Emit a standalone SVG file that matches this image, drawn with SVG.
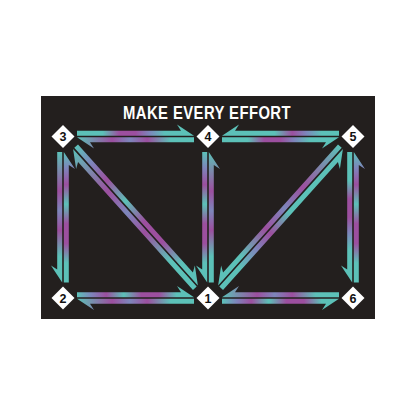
<svg xmlns="http://www.w3.org/2000/svg" width="416" height="416" viewBox="0 0 416 416">
  <style>
    .title { font-family: "Liberation Sans", Arial, sans-serif; font-weight: bold; font-size: 17.5px; fill: #ffffff; letter-spacing: 0.5px; }
    .num { font-family: "Liberation Sans", Arial, sans-serif; font-weight: bold; font-size: 12.5px; fill: #111111; text-anchor: middle; }
    .dia { fill: #ffffff; }
  </style>
  <defs>
    <linearGradient id="ga" x1="0" y1="0" x2="1" y2="0">
      <stop offset="0" stop-color="#5cc1b8"/><stop offset="0.22" stop-color="#5cc1b8"/>
      <stop offset="0.36" stop-color="#9c4f9f"/><stop offset="0.5" stop-color="#9c4f9f"/>
      <stop offset="0.62" stop-color="#7d86bb"/><stop offset="0.75" stop-color="#5cc1b8"/>
      <stop offset="1" stop-color="#5cc1b8"/>
    </linearGradient>
    <linearGradient id="gb" x1="0" y1="0" x2="1" y2="0">
      <stop offset="0" stop-color="#5cc1b8"/><stop offset="0.12" stop-color="#7d86bb"/>
      <stop offset="0.25" stop-color="#9c4f9f"/><stop offset="0.4" stop-color="#5cc1b8"/>
      <stop offset="0.55" stop-color="#9c4f9f"/><stop offset="0.7" stop-color="#9c4f9f"/>
      <stop offset="0.85" stop-color="#5cc1b8"/><stop offset="1" stop-color="#5cc1b8"/>
    </linearGradient>
    <linearGradient id="gc" x1="0" y1="0" x2="1" y2="0">
      <stop offset="0" stop-color="#5cc1b8"/><stop offset="0.3" stop-color="#9c4f9f"/>
      <stop offset="0.45" stop-color="#7d86bb"/><stop offset="0.6" stop-color="#9c4f9f"/>
      <stop offset="0.8" stop-color="#5cc1b8"/><stop offset="1" stop-color="#5cc1b8"/>
    </linearGradient>
    <linearGradient id="gd" x1="0" y1="0" x2="1" y2="0">
      <stop offset="0" stop-color="#5cc1b8"/><stop offset="0.45" stop-color="#5cc1b8"/>
      <stop offset="0.6" stop-color="#9c4f9f"/><stop offset="0.72" stop-color="#7d86bb"/>
      <stop offset="0.85" stop-color="#5cc1b8"/><stop offset="1" stop-color="#5cc1b8"/>
    </linearGradient>
  </defs>

  <rect x="41" y="96" width="334" height="223" fill="#231f1e"/>
  <text class="title" x="207" y="119" text-anchor="middle" textLength="168" lengthAdjust="spacingAndGlyphs">MAKE EVERY EFFORT</text>

  <g id="connectors">
    <g id="c3-4" transform="translate(63,136.5)">
      <polygon fill="url(#ga)" points="14,-0.8 131,-0.8 114,-12 118,-5.8 14,-5.8"/>
      <polygon fill="url(#gc)" points="131,0.8 14,0.8 31,12 27,5.8 131,5.8"/>
    </g>
    <g id="c4-5" transform="translate(208,136.5)">
      <polygon fill="url(#gd)" points="131,-0.8 14,-0.8 31,-12 27,-5.8 131,-5.8"/>
      <polygon fill="url(#ga)" points="14,0.8 131,0.8 114,12 118,5.8 14,5.8"/>
    </g>
    <g id="c2-1" transform="translate(63,298)">
      <polygon fill="url(#gb)" points="14,-0.8 131,-0.8 114,-12 118,-5.8 14,-5.8"/>
      <polygon fill="url(#gc)" points="131,0.8 14,0.8 31,12 27,5.8 131,5.8"/>
    </g>
    <g id="c1-6" transform="translate(208,298)">
      <polygon fill="url(#gc)" points="131,-0.8 14,-0.8 31,-12 27,-5.8 131,-5.8"/>
      <polygon fill="url(#gb)" points="14,0.8 131,0.8 114,12 118,5.8 14,5.8"/>
    </g>
    <g id="c3-2" transform="translate(63,136.5) rotate(90)">
      <polygon fill="url(#gb)" points="146,-0.8 15.5,-0.8 32.5,-12 28.5,-5.8 146,-5.8"/>
      <polygon fill="url(#gc)" points="15.5,0.8 146,0.8 129,12 133,5.8 15.5,5.8"/>
    </g>
    <g id="c4-1" transform="translate(208,136.5) rotate(90)">
      <polygon fill="url(#gc)" points="146,-0.8 15.5,-0.8 32.5,-12 28.5,-5.8 146,-5.8"/>
      <polygon fill="url(#gb)" points="15.5,0.8 146,0.8 129,12 133,5.8 15.5,5.8"/>
    </g>
    <g id="c5-6" transform="translate(353,136.5) rotate(90)">
      <polygon fill="url(#gb)" points="146,-0.8 15.5,-0.8 32.5,-12 28.5,-5.8 146,-5.8"/>
      <polygon fill="url(#ga)" points="15.5,0.8 146,0.8 129,12 133,5.8 15.5,5.8"/>
    </g>
    <g id="c3-1" transform="translate(63,136.5) rotate(48.08)">
      <polygon fill="url(#gb)" points="16,-0.8 201,-0.8 184,-12 188,-5.8 16,-5.8"/>
      <polygon fill="url(#gc)" points="201,0.8 16,0.8 33,12 29,5.8 201,5.8"/>
    </g>
    <g id="c5-1" transform="translate(353,136.5) rotate(131.92)">
      <polygon fill="url(#gd)" points="201,-0.8 16,-0.8 33,-12 29,-5.8 201,-5.8"/>
      <polygon fill="url(#gc)" points="16,0.8 201,0.8 184,12 188,5.8 16,5.8"/>
    </g>
  </g>

  <g id="node3"><polygon class="dia" points="63,125 74.5,136.5 63,148 51.5,136.5"/><text class="num" x="63" y="141">3</text></g>
  <g id="node4"><polygon class="dia" points="208,125 219.5,136.5 208,148 196.5,136.5"/><text class="num" x="208" y="141">4</text></g>
  <g id="node5"><polygon class="dia" points="353,125 364.5,136.5 353,148 341.5,136.5"/><text class="num" x="353" y="141">5</text></g>
  <g id="node2"><polygon class="dia" points="63,286.5 74.5,298 63,309.5 51.5,298"/><text class="num" x="63" y="302.5">2</text></g>
  <g id="node1"><polygon class="dia" points="208,286.5 219.5,298 208,309.5 196.5,298"/><text class="num" x="208" y="302.5">1</text></g>
  <g id="node6"><polygon class="dia" points="353,286.5 364.5,298 353,309.5 341.5,298"/><text class="num" x="353" y="302.5">6</text></g>
</svg>
